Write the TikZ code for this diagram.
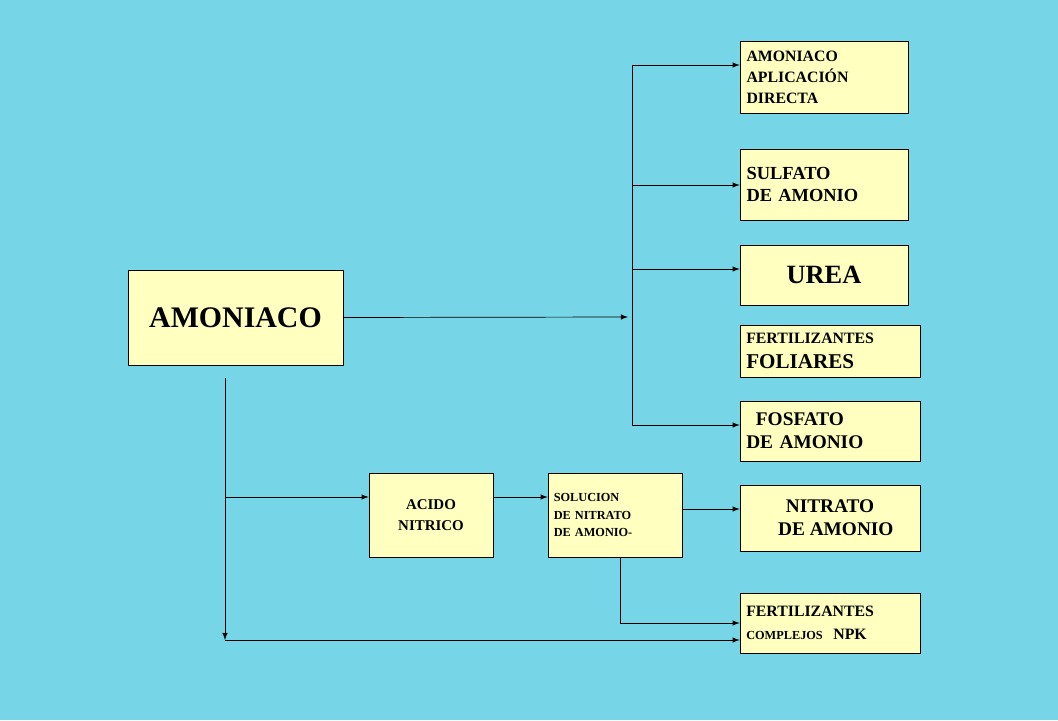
\documentclass[tikz,border=0pt]{standalone}
\usepackage{fontspec}
\setmainfont{Liberation Serif}
\definecolor{bgblue}{RGB}{118,214,232}
\definecolor{boxyellow}{RGB}{255,255,192}
\begin{document}
\begin{tikzpicture}[x=0.02cm, y=-0.02cm,
    box/.style={draw, fill=boxyellow, inner sep=0pt, font=\bfseries},
    arr/.style={-latex, thin},
    ln/.style={thin}
  ]
    \fill[bgblue] (0,0) rectangle (1058,720);
    \useasboundingbox (0,0) rectangle (1058,720);

    \node[box, minimum width=4.3cm, minimum height=1.9cm, font=\bfseries\fontsize{17}{20}\selectfont] (amon) at (235.5,317.5) {AMONIACO};
    \node[box, minimum width=3.36cm, minimum height=1.44cm, align=left, text width=3.1cm, font=\bfseries\fontsize{9}{12}\selectfont] (aplic) at (824,77) {AMONIACO\\APLICACIÓN\\DIRECTA};
    \node[box, minimum width=3.36cm, minimum height=1.42cm, align=left, text width=3.1cm, font=\bfseries\fontsize{10.5}{13}\selectfont] (sulf) at (824,184.5) {SULFATO\\DE AMONIO};
    \node[box, minimum width=3.36cm, minimum height=1.2cm, font=\bfseries\fontsize{15}{18}\selectfont] (urea) at (824,275) {UREA};
    \node[box, minimum width=3.6cm, minimum height=1.04cm, align=left, text width=3.35cm, font=\bfseries\fontsize{9}{14}\selectfont] (foli) at (830,351) {FERTILIZANTES\\{\fontsize{12}{14}\selectfont FOLIARES}};
    \node[box, minimum width=3.6cm, minimum height=1.2cm, align=left, text width=3.35cm, font=\bfseries\fontsize{11}{13}\selectfont] (fosf) at (830,431) {\hspace*{0.5em}FOSFATO\\ DE AMONIO};
    \node[box, minimum width=3.6cm, minimum height=1.32cm, align=center, font=\bfseries\fontsize{11}{13}\selectfont] (nitr) at (830,518) {NITRATO\\\hspace*{0.6em}DE AMONIO};
    \node[box, minimum width=3.6cm, minimum height=1.2cm, align=left, text width=3.35cm, font=\bfseries\fontsize{9}{13}\selectfont] (npk) at (830,623) {FERTILIZANTES\\{\fontsize{7}{9}\selectfont COMPLEJOS}\ \ {\fontsize{9}{9}\selectfont NPK}};
    \node[box, minimum width=2.48cm, minimum height=1.68cm, align=center, font=\bfseries\fontsize{8.5}{12}\selectfont] (acid) at (431,515) {ACIDO\\NITRICO};
    \node[box, minimum width=2.68cm, minimum height=1.68cm, align=left, text width=2.45cm, font=\bfseries\fontsize{7}{10}\selectfont] (sol) at (615,515) {SOLUCION\\DE NITRATO\\DE AMONIO-};

    \coordinate (bus) at (628,317);
    \coordinate (top) at (632,65);
    \coordinate (bot) at (632,425);
    \coordinate (down) at (225,378);
    \coordinate (end) at (225,640);
    \coordinate (tap) at (225,497);

    \draw[arr] (amon.east) -- (bus);
    \draw[ln] (top) -- (bot);
    \draw[arr] (top) -- (aplic.west |- top);
    \draw[arr] (632,185) -- (sulf.west |- 632,185);
    \draw[arr] (632,269) -- (urea.west |- 632,269);
    \draw[arr] (bot) -- (fosf.west |- bot);
    \draw[arr] (down) -- (end);
    \draw[arr] (end) -- (npk.west |- end);
    \draw[arr] (tap) -- (acid.west |- tap);
    \draw[arr] (acid.east |- tap) -- (sol.west |- tap);
    \draw[arr] (sol.east |- 0,509) -- (nitr.west |- 0,509);
    \draw[arr] (620,557) |- (npk.west |- 0,623);
\end{tikzpicture}
\end{document}
